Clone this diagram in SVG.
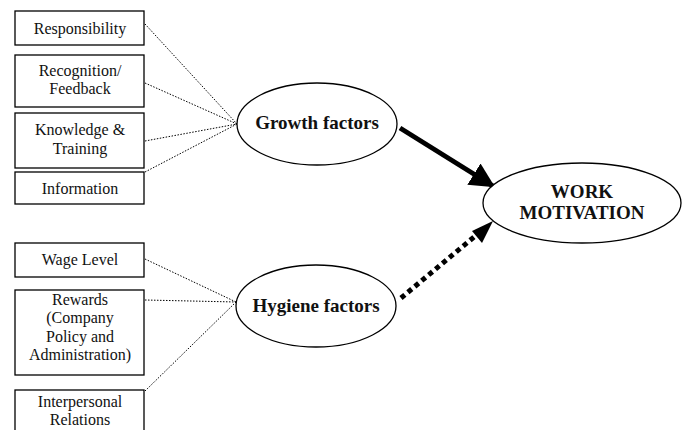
<svg xmlns="http://www.w3.org/2000/svg" width="684" height="430" viewBox="0 0 684 430">
<style>
.box{fill:#fff;stroke:#000;stroke-width:1.3}
.ell{fill:#fff;stroke:#000;stroke-width:1.3}
.t{font-family:"Liberation Serif","Times New Roman",serif;font-size:16px;text-anchor:middle;fill:#111}
.b{font-family:"Liberation Serif","Times New Roman",serif;font-size:19px;font-weight:bold;text-anchor:middle;fill:#111}
.dot{stroke:#000;stroke-width:1;stroke-dasharray:1.5,1.5;fill:none}
</style>
<defs>
<marker id="ah" markerWidth="5" markerHeight="5" refX="4.5" refY="2.5" orient="auto" markerUnits="strokeWidth">
<path d="M0,0 L5,2.5 L0,5 Z" fill="#000"/>
</marker>
</defs>
<g id="connectors">
<path class="dot" d="M145,24 L237,124 M145,83 L237,124 M145,141 L237,124 M145,172 L237,124"/>
<path class="dot" d="M145,259 L236,302 M145,300 L236,302 M145,391 L236,302"/>
<line x1="400" y1="128" x2="493" y2="186" stroke="#000" stroke-width="5" marker-end="url(#ah)"/>
<line x1="401" y1="298" x2="474" y2="237" stroke="#000" stroke-width="5" stroke-dasharray="5,4"/>
<path d="M493,221 L482,243 L472,231 Z" fill="#000"/>
</g>
<g id="n-responsibility"><rect class="box" x="15" y="11" width="129" height="34"/><text class="t" x="80" y="34">Responsibility</text></g>
<g id="n-recognition"><rect class="box" x="15" y="55" width="129" height="52"/><text class="t" x="80" y="76">Recognition/</text><text class="t" x="80" y="94">Feedback</text></g>
<g id="n-knowledge"><rect class="box" x="15" y="113" width="129" height="55"/><text class="t" x="80" y="135">Knowledge &amp;</text><text class="t" x="80" y="154">Training</text></g>
<g id="n-information"><rect class="box" x="15" y="172" width="129" height="32"/><text class="t" x="80" y="194">Information</text></g>
<g id="n-wage"><rect class="box" x="15" y="243" width="129" height="34"/><text class="t" x="80" y="265">Wage Level</text></g>
<g id="n-rewards"><rect class="box" x="15" y="290" width="129" height="85"/><text class="t" x="80" y="305">Rewards</text><text class="t" x="80" y="323">(Company</text><text class="t" x="80" y="342">Policy and</text><text class="t" x="80" y="360">Administration)</text></g>
<g id="n-interpersonal"><rect class="box" x="15" y="390" width="129" height="45"/><text class="t" x="80" y="407">Interpersonal</text><text class="t" x="80" y="425">Relations</text></g>
<g id="n-growth"><ellipse class="ell" cx="317" cy="124" rx="80" ry="41"/><text class="b" x="317" y="129">Growth factors</text></g>
<g id="n-hygiene"><ellipse class="ell" cx="316" cy="306" rx="80" ry="41"/><text class="b" x="316" y="312">Hygiene factors</text></g>
<g id="n-work"><ellipse class="ell" cx="582" cy="203" rx="99" ry="40"/><text class="b" x="582" y="198">WORK</text><text class="b" x="582" y="219">MOTIVATION</text></g>
</svg>
